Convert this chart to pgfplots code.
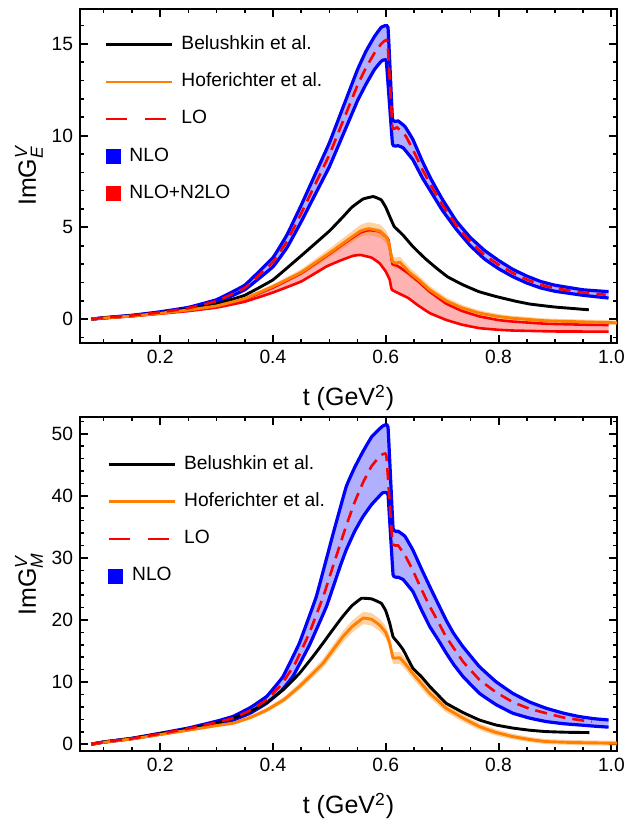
\documentclass[border=0pt]{standalone}
\usepackage{amsmath}
\usepackage{fontspec}
\setmainfont{Liberation Sans}
\usepackage{pgfplots}
\pgfplotsset{compat=1.18}
\usepgfplotslibrary{fillbetween}

\definecolor{nloblue}{RGB}{0,0,255}
\definecolor{nlofill}{RGB}{176,176,255}
\definecolor{hofe}{RGB}{255,127,0}
\definecolor{n2fill}{RGB}{255,178,178}

\pgfplotsset{
  panel/.style={
    set layers,
    scale only axis, width=268.5pt, height=167pt,
    anchor=north west,
    xmin=0.058, xmax=1.01,
    axis line style={line width=1.2pt},
    tick align=inside,
    major tick length=4pt, minor tick length=2.2pt,
    major tick style={black, line width=1pt},
    minor tick style={black, line width=0.8pt},
    xtick={0.2,0.4,0.6,0.8,1.0},
    minor xtick={0.1,0.15,0.25,0.3,0.35,0.45,0.5,0.55,0.65,0.7,0.75,0.85,0.9,0.95},
    tick label style={font=\fontsize{9.6}{11}\selectfont},
    x tick label style={/pgf/number format/.cd, fixed, fixed zerofill, precision=1},
    /pgf/number format/assume math mode=true,
    xlabel={t (GeV\textsuperscript{2})},
    every axis x label/.style={at={(axis description cs:0.5,-0.165)}, anchor=center,
      font=\fontsize{12.5}{14}\selectfont},
    every axis y label/.style={at={(axis description cs:-0.095,0.5)}, rotate=90, anchor=center,
      font=\fontsize{12.5}{14}\selectfont},
    legend style={draw=none, fill=none, anchor=north west, inner sep=0pt,
      font=\fontsize{9.6}{11}\selectfont, row sep=8.3pt, column sep=3pt,
      nodes={inner sep=1pt, text height=6.5pt, text depth=1.8pt}},
    legend cell align=left,
    legend image code/.code={\draw[#1] (0pt,0pt) -- (33pt,0pt);},
  },
  crv/.style={smooth, tension=0.15},
  lo image/.style={legend image code/.code={\draw[red, line width=1.3pt, dash pattern=on 10.5pt off 9pt] (0pt,0pt) -- (30pt,0pt);}},
}
\newcommand{\sq}[1]{\hspace*{-26pt}#1\hspace*{26pt}}

\begin{document}
\begin{tikzpicture}

% ---------------- electric ----------------
\begin{axis}[panel, at={(0pt,0pt)},
  ymin=-1.3, ymax=16.9,
  ytick={0,5,10,15},
  minor ytick={-1,1,2,3,4,6,7,8,9,11,12,13,14,16},
  ylabel={ImG$^{\textit{V}}_{\textit{E}}$},
  legend style={at={(axis description cs:0.045,0.925)}}]

\addplot[crv, name path=nEh, draw=nloblue, line width=1.6pt, forget plot] coordinates {
(0.078,0)(0.1,0.08)(0.15,0.21)(0.2,0.40)(0.25,0.64)(0.3,1.06)(0.35,1.85)(0.4,3.35)(0.425,4.6)(0.45,6.2)(0.475,7.9)(0.5,9.6)(0.525,11.6)(0.55,13.6)(0.565,14.6)(0.58,15.4)(0.592,15.9)(0.604,15.9)(0.612,10.9)(0.622,10.8)(0.634,10.5)(0.648,9.8)(0.665,8.6)(0.68,7.65)(0.7,6.55)(0.725,5.35)(0.75,4.45)(0.775,3.75)(0.8,3.2)(0.825,2.72)(0.85,2.35)(0.875,2.05)(0.9,1.85)(0.95,1.6)(0.995,1.5)};
\addplot[crv, name path=nEl, draw=nloblue, line width=1.6pt, forget plot] coordinates {
(0.078,0)(0.1,0.06)(0.15,0.19)(0.2,0.34)(0.25,0.56)(0.3,0.9)(0.35,1.6)(0.4,2.85)(0.425,3.9)(0.45,5.3)(0.475,6.8)(0.5,8.3)(0.525,10.1)(0.55,11.9)(0.565,12.8)(0.58,13.6)(0.592,14.05)(0.601,14.05)(0.612,9.55)(0.622,9.45)(0.631,9.33)(0.648,8.69)(0.665,7.7)(0.68,6.95)(0.7,5.95)(0.725,4.9)(0.75,4.0)(0.775,3.28)(0.8,2.75)(0.825,2.32)(0.85,1.97)(0.875,1.7)(0.9,1.52)(0.95,1.3)(0.995,1.15)};
\addplot[fill=nlofill, forget plot] fill between[of=nEh and nEl];

\addplot[crv, name path=rEh, draw=red, line width=1.3pt, forget plot] coordinates {
(0.078,0)(0.1,0.06)(0.15,0.17)(0.2,0.31)(0.25,0.48)(0.3,0.7)(0.35,1.08)(0.4,1.72)(0.45,2.5)(0.5,3.55)(0.525,4.1)(0.555,4.72)(0.57,4.85)(0.589,4.78)(0.6,4.5)(0.605,4.3)(0.612,3.0)(0.62,2.92)(0.64,2.5)(0.66,2.0)(0.678,1.5)(0.707,0.85)(0.735,0.45)(0.766,0.15)(0.8,-0.05)(0.825,-0.13)(0.884,-0.25)(0.95,-0.3)(0.995,-0.32)};
\addplot[crv, name path=rEl, draw=red, line width=1.3pt, forget plot] coordinates {
(0.078,0)(0.1,0.06)(0.15,0.16)(0.2,0.3)(0.25,0.44)(0.3,0.63)(0.35,0.95)(0.4,1.45)(0.45,2.05)(0.495,2.87)(0.52,3.2)(0.542,3.45)(0.555,3.5)(0.575,3.35)(0.589,3.05)(0.6,2.6)(0.607,2.15)(0.611,1.6)(0.64,1.15)(0.655,0.8)(0.678,0.33)(0.707,-0.04)(0.735,-0.3)(0.766,-0.49)(0.8,-0.58)(0.825,-0.62)(0.9,-0.67)(0.995,-0.68)};
\addplot[fill=n2fill, forget plot] fill between[of=rEh and rEl];

\addplot[crv, name path=oEh, draw=none, forget plot] coordinates {
(0.078,0)(0.1,0.07)(0.15,0.19)(0.2,0.35)(0.25,0.55)(0.3,0.79)(0.35,1.21)(0.4,1.90)(0.45,2.72)(0.5,3.84)(0.525,4.43)(0.555,5.13)(0.57,5.28)(0.59,5.15)(0.6,4.84)(0.605,4.53)(0.612,3.45)(0.618,3.35)(0.625,3.40)(0.642,2.82)(0.66,2.34)(0.678,1.82)(0.707,1.19)(0.735,0.79)(0.766,0.48)(0.8,0.28)(0.825,0.18)(0.884,0.04)(0.95,-0.02)(1.01,-0.07)};
\addplot[crv, name path=oEl, draw=none, forget plot] coordinates {
(0.078,0)(0.1,0.05)(0.15,0.15)(0.2,0.29)(0.25,0.45)(0.3,0.65)(0.35,1.03)(0.4,1.66)(0.45,2.38)(0.5,3.36)(0.525,3.87)(0.555,4.47)(0.57,4.58)(0.59,4.45)(0.6,4.16)(0.605,3.87)(0.612,2.85)(0.618,2.75)(0.625,2.80)(0.642,2.28)(0.66,1.86)(0.678,1.38)(0.707,0.81)(0.735,0.45)(0.766,0.18)(0.8,0.0)(0.825,-0.08)(0.884,-0.22)(0.95,-0.28)(1.01,-0.33)};
\addplot[fill=hofe, fill opacity=0.35, forget plot] fill between[of=oEh and oEl];

\addplot[crv, black, line width=1.45pt] coordinates {
(0.078,0)(0.1,0.07)(0.15,0.19)(0.2,0.36)(0.25,0.55)(0.3,0.83)(0.35,1.3)(0.4,2.14)(0.45,3.45)(0.5,4.8)(0.525,5.6)(0.54,6.1)(0.56,6.55)(0.578,6.68)(0.592,6.5)(0.6,6.1)(0.607,5.6)(0.615,5.05)(0.63,4.6)(0.648,3.96)(0.67,3.3)(0.69,2.78)(0.71,2.3)(0.737,1.87)(0.765,1.5)(0.796,1.23)(0.83,0.98)(0.856,0.82)(0.9,0.66)(0.96,0.51)};
\addlegendentry{Belushkin et al.}
\addplot[crv, hofe, line width=1.45pt] coordinates {
(0.078,0)(0.1,0.06)(0.15,0.17)(0.2,0.32)(0.25,0.5)(0.3,0.72)(0.35,1.12)(0.4,1.78)(0.45,2.55)(0.5,3.6)(0.525,4.15)(0.555,4.8)(0.57,4.93)(0.59,4.8)(0.6,4.5)(0.605,4.2)(0.612,3.15)(0.618,3.05)(0.625,3.1)(0.642,2.55)(0.66,2.1)(0.678,1.6)(0.707,1.0)(0.735,0.62)(0.766,0.33)(0.8,0.14)(0.825,0.05)(0.884,-0.09)(0.95,-0.15)(1.01,-0.2)};
\addlegendentry{Hoferichter et al.}
\addplot[crv, red, line width=1.3pt, dash pattern=on 6pt off 3.5pt, lo image] coordinates {
(0.078,0)(0.1,0.07)(0.15,0.2)(0.2,0.37)(0.25,0.6)(0.3,0.98)(0.35,1.7)(0.4,3.1)(0.425,4.25)(0.45,5.75)(0.475,7.35)(0.5,8.95)(0.525,10.85)(0.55,12.75)(0.565,13.7)(0.58,14.5)(0.592,15.0)(0.603,15.15)(0.612,10.45)(0.62,10.45)(0.635,10.0)(0.648,9.25)(0.665,8.15)(0.68,7.3)(0.7,6.25)(0.725,5.12)(0.75,4.22)(0.775,3.5)(0.8,2.97)(0.825,2.52)(0.85,2.16)(0.875,1.87)(0.9,1.68)(0.95,1.45)(0.99,1.33)};
\addlegendentry{LO}
\addlegendimage{legend image code/.code={\fill[nloblue] (0pt,-3.5pt) rectangle (7pt,3.5pt);}}
\addlegendentry{\sq{NLO}}
\addlegendimage{legend image code/.code={\fill[red] (0pt,-3.5pt) rectangle (7pt,3.5pt);}}
\addlegendentry{\sq{NLO+N2LO}}
\end{axis}

% ---------------- magnetic ----------------
\begin{axis}[panel, at={(0pt,-204pt)},
  ymin=-1.1, ymax=52.7,
  ytick={0,10,20,30,40,50},
  minor ytick={2,4,6,8,12,14,16,18,22,24,26,28,32,34,36,38,42,44,46,48,52},
  ylabel={ImG$^{\textit{V}}_{\textit{M}}$},
  legend style={at={(axis description cs:0.05,0.89)}}]

\addplot[crv, name path=nMh, draw=nloblue, line width=1.6pt, forget plot] coordinates {
(0.078,0)(0.1,0.35)(0.15,0.95)(0.2,1.75)(0.25,2.6)(0.3,3.7)(0.33,4.5)(0.36,5.9)(0.389,7.7)(0.418,10.9)(0.447,16.3)(0.477,23.8)(0.507,34.0)(0.53,41.5)(0.545,44.6)(0.56,47.2)(0.575,49.5)(0.594,51.2)(0.604,51.1)(0.613,34.8)(0.622,34.3)(0.634,33.5)(0.648,31.3)(0.663,28.3)(0.678,25.4)(0.693,22.6)(0.707,20.0)(0.72,17.9)(0.737,15.7)(0.766,12.5)(0.795,10.1)(0.825,8.2)(0.855,6.8)(0.884,5.8)(0.915,5.0)(0.943,4.45)(0.97,4.1)(0.995,3.9)};
\addplot[crv, name path=nMl, draw=nloblue, line width=1.6pt, forget plot] coordinates {
(0.078,0)(0.1,0.33)(0.15,0.88)(0.2,1.62)(0.25,2.4)(0.3,3.3)(0.33,3.9)(0.36,5.0)(0.389,6.6)(0.415,8.6)(0.436,11.0)(0.465,16.0)(0.495,22.2)(0.519,28.6)(0.53,31.3)(0.545,34.3)(0.56,36.7)(0.575,38.6)(0.594,40.45)(0.604,40.2)(0.613,27.3)(0.622,26.9)(0.631,26.5)(0.648,24.6)(0.663,21.7)(0.678,18.95)(0.693,16.8)(0.707,14.7)(0.72,12.9)(0.737,10.9)(0.766,8.2)(0.795,6.4)(0.825,5.0)(0.855,4.2)(0.884,3.65)(0.915,3.3)(0.943,3.1)(0.97,2.9)(0.995,2.74)};
\addplot[fill=nlofill, forget plot] fill between[of=nMh and nMl];

\addplot[crv, name path=oMh, draw=none, forget plot] coordinates {
(0.078,0)(0.1,0.35)(0.15,0.95)(0.2,1.70)(0.25,2.45)(0.3,3.25)(0.33,3.68)(0.36,4.62)(0.389,5.88)(0.42,7.65)(0.447,9.85)(0.47,11.95)(0.489,13.77)(0.505,15.8)(0.524,18.2)(0.54,19.85)(0.56,21.3)(0.575,21.1)(0.589,20.2)(0.6,19.0)(0.607,17.3)(0.613,14.85)(0.625,14.85)(0.635,13.8)(0.648,12.25)(0.663,10.6)(0.678,8.95)(0.693,7.7)(0.707,6.45)(0.737,4.8)(0.766,3.39)(0.795,2.4)(0.825,1.68)(0.855,1.17)(0.884,0.82)(0.94,0.65)(1.01,0.55)};
\addplot[crv, name path=oMl, draw=none, forget plot] coordinates {
(0.078,0)(0.1,0.25)(0.15,0.75)(0.2,1.40)(0.25,2.05)(0.3,2.75)(0.33,3.12)(0.36,3.98)(0.389,5.12)(0.42,6.75)(0.447,8.75)(0.47,10.65)(0.489,12.33)(0.505,14.2)(0.524,16.4)(0.54,17.95)(0.56,19.3)(0.575,19.1)(0.589,18.2)(0.6,17.0)(0.607,15.3)(0.613,12.95)(0.625,12.95)(0.635,12.0)(0.648,10.55)(0.663,9.0)(0.678,7.45)(0.693,6.3)(0.707,5.15)(0.737,3.6)(0.766,2.29)(0.795,1.4)(0.825,0.78)(0.855,0.33)(0.884,0.02)(0.94,-0.15)(1.01,-0.25)};
\addplot[fill=hofe, fill opacity=0.35, forget plot] fill between[of=oMh and oMl];

\addplot[crv, black, line width=1.45pt] coordinates {
(0.078,0)(0.1,0.35)(0.15,0.92)(0.2,1.7)(0.25,2.45)(0.3,3.4)(0.33,4.2)(0.36,5.3)(0.389,6.7)(0.42,8.9)(0.447,11.4)(0.47,14.0)(0.489,16.3)(0.505,18.3)(0.524,20.6)(0.54,22.3)(0.557,23.5)(0.575,23.4)(0.592,22.7)(0.6,21.5)(0.607,19.5)(0.613,17.3)(0.622,16.3)(0.631,15.2)(0.648,12.25)(0.663,10.9)(0.678,9.3)(0.693,7.9)(0.707,6.6)(0.737,5.1)(0.766,3.9)(0.795,3.1)(0.825,2.6)(0.855,2.25)(0.884,2.03)(0.92,1.92)(0.961,1.87)};
\addlegendentry{Belushkin et al.}
\addplot[crv, hofe, line width=1.45pt] coordinates {
(0.078,0)(0.1,0.3)(0.15,0.85)(0.2,1.55)(0.25,2.25)(0.3,3.0)(0.33,3.4)(0.36,4.3)(0.389,5.5)(0.42,7.2)(0.447,9.3)(0.47,11.3)(0.489,13.05)(0.505,15.0)(0.524,17.3)(0.54,18.9)(0.56,20.3)(0.575,20.1)(0.589,19.2)(0.6,18.0)(0.607,16.3)(0.613,13.9)(0.625,13.9)(0.635,12.9)(0.648,11.4)(0.663,9.8)(0.678,8.2)(0.693,7.0)(0.707,5.8)(0.737,4.2)(0.766,2.84)(0.795,1.9)(0.825,1.23)(0.855,0.75)(0.884,0.42)(0.94,0.25)(1.01,0.15)};
\addlegendentry{Hoferichter et al.}
\addplot[crv, red, line width=1.3pt, dash pattern=on 6pt off 3.5pt, lo image] coordinates {
(0.078,0)(0.1,0.34)(0.15,0.92)(0.2,1.68)(0.25,2.5)(0.3,3.5)(0.33,4.2)(0.36,5.45)(0.389,7.15)(0.415,9.6)(0.44,13.1)(0.465,18.0)(0.49,24.0)(0.507,28.8)(0.53,35.2)(0.545,39.0)(0.56,42.2)(0.575,44.8)(0.59,46.4)(0.601,46.6)(0.612,32.4)(0.622,32.0)(0.635,30.3)(0.648,28.0)(0.663,25.0)(0.678,22.2)(0.693,19.7)(0.707,17.3)(0.737,13.3)(0.766,10.4)(0.795,8.4)(0.825,6.8)(0.855,5.7)(0.884,5.0)(0.915,4.3)(0.943,3.9)(0.965,3.6)};
\addlegendentry{LO}
\addlegendimage{legend image code/.code={\fill[nloblue] (0pt,-3.5pt) rectangle (7pt,3.5pt);}}
\addlegendentry{\sq{NLO}}
\end{axis}

\pgfresetboundingbox
\path (-40pt,4.5pt) rectangle (272pt,-406pt);
\end{tikzpicture}
\end{document}
